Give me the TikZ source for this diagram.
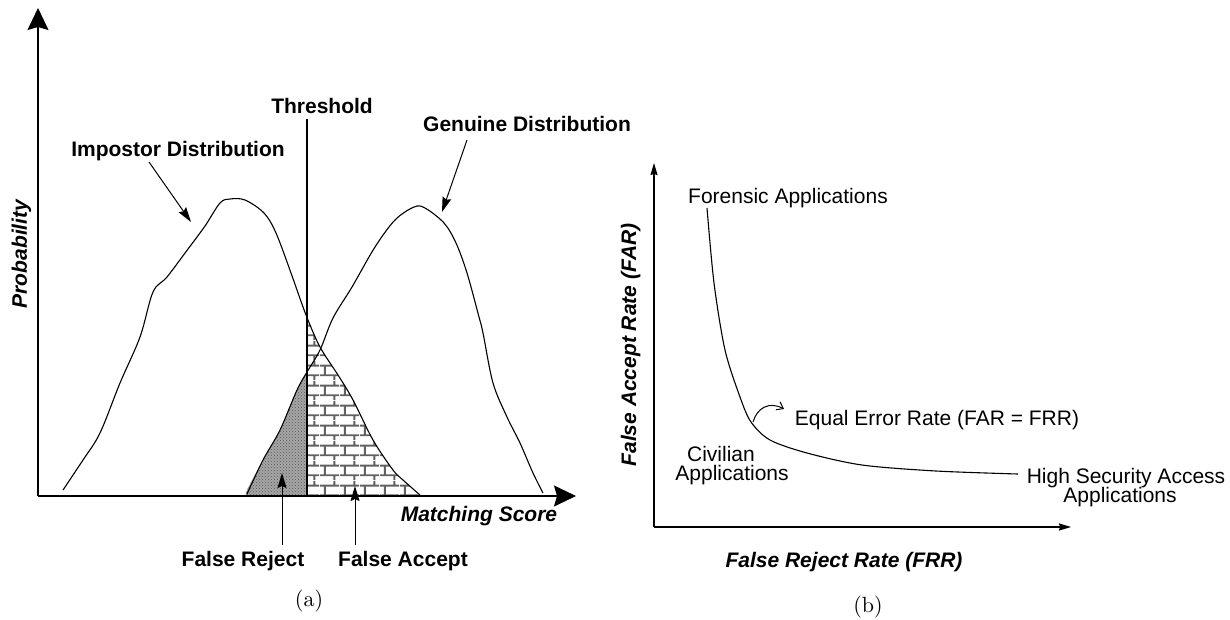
\documentclass[tikz,border=0pt]{standalone}
\usepackage{fontspec}
\newfontfamily\hel{Liberation Sans}
\newfontfamily\lmten{lmroman10-regular.otf}
\usetikzlibrary{arrows.meta,patterns,patterns.meta}

\tikzdeclarepattern{
  name=brickwall, type=uncolored,
  bottom left={(0pt,0pt)}, top right={(20pt,20pt)}, tile size={(20pt,20pt)},
  code={
    \draw[line width=2pt] (0pt,5pt)--(20pt,5pt) (0pt,15pt)--(20pt,15pt)
      (5pt,5pt)--(5pt,15pt) (15pt,15pt)--(15pt,20pt) (15pt,0pt)--(15pt,5pt);
  }
}

\begin{document}
\begin{tikzpicture}[x=1pt,y=-1pt,
  lbl/.style={font=\hel\fontsize{21}{21}\selectfont\bfseries, inner sep=0pt},
  axlbl/.style={font=\hel\fontsize{21}{21}\selectfont\bfseries\itshape, inner sep=0pt},
  rlbl/.style={font=\hel\fontsize{21}{18}\selectfont, inner sep=0pt, align=center},
  caplbl/.style={font=\lmten\fontsize{22}{22}\selectfont, inner sep=0pt},
  bigaxis/.style={line width=1.4pt, -{Stealth[length=22pt,width=21pt,inset=3pt]}},
  smallaxis/.style={line width=1.2pt, -{Stealth[length=12pt,width=7pt,inset=1pt]}},
  ptr/.style={line width=1pt, -{Stealth[length=15pt,width=9pt,inset=2pt]}},
  curve/.style={line width=1.1pt},
]
\useasboundingbox (0,0) rectangle (1230,619);

% ---------- panel (a) ----------
\coordinate (O1) at (38,496);
\coordinate (Y1) at (38,8);
\coordinate (X1) at (576,496);

% false reject region
\fill[black!35] plot[smooth] coordinates {(246,496)(247,490)(263,460)(280,430)(297,390)(307,372)} -- (307,496) -- cycle;
\fill[pattern=crosshatch dots, pattern color=black!65] plot[smooth] coordinates {(246,496)(247,490)(263,460)(280,430)(297,390)(307,372)} -- (307,496) -- cycle;
% false accept region
\fill[pattern=brickwall, pattern color=black!62] (307,496) -- plot[smooth] coordinates {(307,315)(320,347)(338,375)(353,400)(373,440)(393,470)(403,480)(420,496)} -- cycle;

% impostor curve
\draw[curve] plot[smooth, tension=0.55] coordinates {(63,490)(83,460)(100,433)(120,383)(140,337)(153,292)(167,277)(188,249)(205,226)(220,203)(230,199)(245,200)(264,213)(276,233)(291,273)(306,315)(320,347)(338,375)(353,400)(373,440)(393,470)(403,480)(420,495)};
% genuine curve
\draw[curve] plot[smooth, tension=0.55] coordinates {(247,494)(263,460)(280,430)(297,390)(307,372)(320,350)(333,318)(352,287)(375,247)(395,220)(414,207)(425,208)(444,223)(456,243)(467,273)(479,317)(483,333)(493,383)(507,417)(520,443)(533,473)(543,493)};

% threshold
\coordinate (thrT) at (307,119);
\coordinate (thrB) at (307,496);
\draw[line width=1.4pt] (thrT) -- (thrB);

% axes
\draw[bigaxis] (O1) -- (Y1);
\draw[bigaxis] (O1) -- (X1);

% labels
\node[lbl, anchor=base] (thr) at (322,113) {Threshold};
\node[lbl, anchor=base] (imp) at (178,156) {Impostor Distribution};
\node[lbl, anchor=base] (gen) at (527,131) {Genuine Distribution};
\node[axlbl, anchor=base] (ms) at (479,521) {Matching Score};
\node[lbl, anchor=base] (fr) at (243,566) {False Reject};
\node[lbl, anchor=base] (fa) at (403,566) {False Accept};
\node[axlbl, anchor=base, rotate=90] (prob) at (27,254) {Probability};
\node[caplbl, anchor=base] (capa) at (309,606) {(a)};

% pointers
\coordinate (impT) at (149,162); \coordinate (impH) at (191,222);
\coordinate (genT) at (467,140); \coordinate (genH) at (442,212);
\coordinate (frT) at (282,545); \coordinate (frH) at (282,473);
\coordinate (faT) at (355,545); \coordinate (faH) at (355,486);
\draw[ptr] (impT) -- (impH);
\draw[ptr] (genT) -- (genH);
\draw[ptr] (frT) -- (frH);
\draw[ptr] (faT) -- (faH);

% ---------- panel (b) ----------
\coordinate (O2) at (654,527);
\coordinate (Y2) at (654,163);
\coordinate (X2) at (1071,527);
\draw[smallaxis] (O2) -- (Y2);
\draw[smallaxis] (O2) -- (X2);

\draw[curve] plot[smooth, tension=0.5] coordinates {(707,208)(714,283)(725,350)(740,397)(751,422)(770,440)(807,453)(862,465)(936,471)(1018,474)};

\coordinate (eerS) at (753,422);
\coordinate (eerE) at (784,409);
\draw[line width=1pt, -{Straight Barb[length=6pt,width=9pt]}] (eerS) .. controls (757,408) and (769,401) .. (eerE);

\node[axlbl, anchor=base, rotate=90] (far) at (636,345) {False Accept Rate (FAR)};
\node[axlbl, anchor=base] (frr) at (844,567) {False Reject Rate (FRR)};
\node[rlbl, anchor=base] (for) at (788,203) {Forensic Applications};
\node[rlbl, anchor=base] (eer) at (937,425) {Equal Error Rate (FAR = FRR)};
\node[rlbl, anchor=base] (civ1) at (721,461) {Civilian};
\node[rlbl, anchor=base] (civ2) at (732,480) {Applications};
\node[rlbl, anchor=base] (hs1) at (1126,483) {High Security Access};
\node[rlbl, anchor=base] (hs2) at (1120,502) {Applications};
\node[caplbl, anchor=base] (capb) at (868,612) {(b)};
\end{tikzpicture}
\end{document}
